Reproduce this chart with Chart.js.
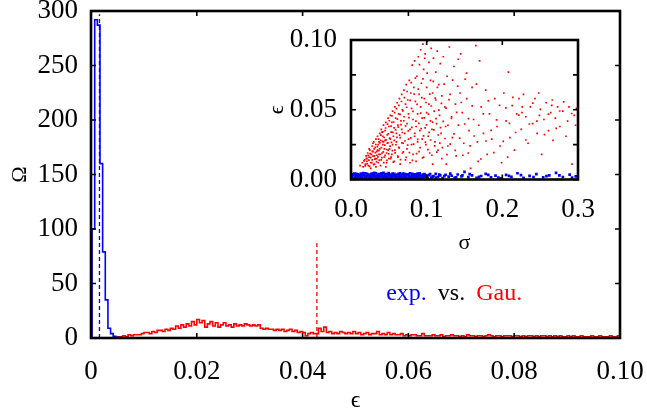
<!DOCTYPE html>
<html>
<head>
<meta charset="utf-8">
<script src="https://cdn.jsdelivr.net/npm/chart.js@4.4.1/dist/chart.umd.min.js"></script>
<style>
  html, body { margin: 0; padding: 0; background: #fff; }
  #wrap { position: relative; width: 647px; height: 413px; }
  #main { position: absolute; left: 0; top: 0; }
  #inset { position: absolute; left: 262px; top: 28px; }
</style>
</head>
<body>
<div id="wrap">
  <canvas id="main" width="647" height="413"></canvas>
  <canvas id="inset" width="340" height="230"></canvas>
</div>
<script>
// histogram bins (epsilon), width 0.0005
const binWidth = 0.0005;
const blueStart = 0.0002;
const blueCounts = [100, 292, 287, 160, 79, 35, 9, 4, 1.5, 0.5];
const redStart = 0.005;
const redCounts = [
  1, 1, 2, 1,
  3, 2, 3, 3, 3, 4,
  5, 5, 4, 6, 5, 7,
  7, 6, 8, 7, 9, 8,
  11, 9, 12, 10, 13, 11,
  15, 12, 17, 14, 16, 10,
  13, 15, 11, 14, 10, 12,
  14, 11, 12, 10, 13, 11,
  12, 11, 13, 12, 11, 12,
  11, 12, 9, 8, 9, 8,
  8, 7, 8, 7, 8, 6,
  7, 8, 6, 7, 5, 6,
  5, 2, 4, 5, 4, 4,
  9, 6, 10, 5, 6, 4,
  5, 4, 6, 5, 4, 5,
  4, 6, 4, 5, 3, 4,
  5, 3, 4, 4, 6, 3,
  4, 3, 5, 3, 4, 3,
  3, 4, 2, 3, 2, 3,
  3, 2, 2, 4, 2, 2,
  2, 3, 2, 2, 3, 1,
  2, 2, 3, 2, 2, 1,
  2, 1, 3, 2, 2, 1,
  2, 2, 1, 2, 3, 2,
  1, 2, 2, 1, 2, 2,
  2, 1, 2, 2, 1, 2,
  1, 2, 2, 1, 2, 1,
  2, 2, 1, 2, 1, 2,
  1, 2, 1, 1, 2, 1,
  2, 1, 1, 2, 1, 1,
  1, 2, 1, 1, 2, 1,
  1, 1, 2, 1, 1, 2
];
// mean markers
const blueMean = [0.0016, 297];
const redMean = [0.0427, 90];

const xTicks = [0, 0.02, 0.04, 0.06, 0.08, 0.1];
const xTickLabels = ['0', '0.02', '0.04', '0.06', '0.08', '0.10'];
const yTicks = [0, 50, 100, 150, 200, 250, 300];
const yTickLabels = ['0', '50', '100', '150', '200', '250', '300'];

// inset: sigma vs epsilon
const insetXTicks = [0, 0.1, 0.2, 0.3];
const insetXLabels = ['0.0', '0.1', '0.2', '0.3'];
const insetYTicks = [0, 0.05, 0.1];
const insetYLabels = ['0.00', '0.05', '0.10'];
const insetYMinor = [0.025, 0.075];

const redPoints = [
  [0.012,0.010],[0.015,0.012],[0.016,0.009],[0.018,0.014],[0.019,0.011],[0.020,0.017],[0.021,0.013],[0.022,0.019],
  [0.023,0.010],[0.024,0.016],[0.025,0.021],[0.026,0.012],[0.027,0.018],[0.028,0.024],[0.028,0.014],[0.029,0.020],
  [0.030,0.027],[0.031,0.011],[0.031,0.017],[0.032,0.023],[0.033,0.029],[0.034,0.015],[0.034,0.020],[0.035,0.031],
  [0.036,0.012],[0.036,0.025],[0.037,0.018],[0.038,0.033],[0.038,0.022],[0.039,0.028],[0.040,0.014],[0.040,0.036],
  [0.041,0.019],[0.042,0.025],[0.042,0.031],[0.043,0.039],[0.044,0.016],[0.044,0.022],[0.045,0.028],[0.045,0.035],
  [0.046,0.041],[0.047,0.012],[0.047,0.019],[0.048,0.026],[0.048,0.032],[0.049,0.044],[0.050,0.015],[0.050,0.038],
  [0.051,0.022],[0.052,0.029],[0.052,0.046],[0.053,0.034],[0.054,0.018],[0.054,0.041],[0.055,0.025],[0.055,0.049],
  [0.056,0.031],[0.057,0.013],[0.057,0.037],[0.058,0.052],[0.058,0.021],[0.059,0.044],[0.060,0.027],[0.060,0.033],
  [0.061,0.055],[0.062,0.016],[0.062,0.039],[0.063,0.047],[0.063,0.023],[0.064,0.058],[0.065,0.030],[0.065,0.011],
  [0.066,0.042],[0.067,0.061],[0.067,0.036],[0.068,0.019],[0.068,0.050],[0.069,0.026],[0.070,0.064],[0.070,0.045],
  [0.026,0.008],[0.033,0.009],[0.039,0.010],[0.046,0.009],[0.021,0.015],[0.024,0.022],[0.029,0.026],[0.032,0.015],
  [0.037,0.027],[0.041,0.034],[0.043,0.027],[0.049,0.021],[0.053,0.016],[0.035,0.021],
  [0.071,0.033],[0.072,0.054],[0.072,0.014],[0.073,0.068],[0.074,0.040],[0.074,0.022],[0.075,0.057],[0.076,0.029],
  [0.076,0.047],[0.077,0.071],[0.078,0.012],[0.078,0.036],[0.079,0.062],[0.080,0.025],[0.080,0.051],[0.081,0.082],
  [0.082,0.043],[0.082,0.018],[0.083,0.066],[0.084,0.031],[0.084,0.085],[0.085,0.056],[0.086,0.038],[0.086,0.013],
  [0.087,0.074],[0.088,0.047],[0.088,0.027],[0.089,0.088],[0.090,0.061],[0.090,0.020],[0.091,0.035],[0.092,0.093],
  [0.092,0.052],[0.093,0.069],[0.094,0.029],[0.094,0.044],[0.095,0.097],[0.096,0.079],[0.096,0.016],[0.097,0.058],
  [0.098,0.037],[0.098,0.090],[0.099,0.025],[0.100,0.066],[0.100,0.048],[0.101,0.099],[0.102,0.031],[0.103,0.084],
  [0.103,0.054],[0.104,0.019],[0.105,0.071],[0.105,0.042],[0.106,0.094],[0.107,0.036],[0.108,0.062],[0.108,0.011],
  [0.109,0.087],[0.110,0.049],[0.111,0.027],[0.112,0.077],[0.112,0.057],[0.113,0.040],[0.114,0.092],[0.115,0.021],
  [0.116,0.068],[0.117,0.046],[0.118,0.083],[0.119,0.033],[0.120,0.060],[0.120,0.015],
  [0.122,0.088],[0.124,0.052],[0.125,0.038],[0.127,0.074],[0.128,0.024],[0.130,0.095],[0.131,0.061],[0.133,0.045],
  [0.134,0.030],[0.136,0.081],[0.138,0.054],[0.139,0.017],[0.141,0.067],[0.142,0.039],[0.145,0.090],[0.147,0.048],
  [0.149,0.026],[0.151,0.072],[0.153,0.058],[0.156,0.035],[0.158,0.008],[0.160,0.066],[0.162,0.043],[0.165,0.096],
  [0.167,0.027],[0.170,0.085],[0.172,0.052],[0.175,0.033],[0.178,0.064],[0.180,0.018],[0.183,0.047],[0.186,0.029],
  [0.190,0.058],[0.193,0.038],[0.197,0.024],[0.199,0.012],[0.155,0.019],[0.168,0.013],[0.144,0.062],[0.126,0.011],
  [0.202,0.062],[0.205,0.042],[0.208,0.077],[0.210,0.030],[0.213,0.053],[0.216,0.021],[0.219,0.047],[0.222,0.058],
  [0.225,0.036],[0.228,0.061],[0.231,0.045],[0.234,0.026],[0.237,0.052],[0.240,0.040],[0.243,0.058],[0.246,0.033],
  [0.249,0.046],[0.252,0.018],[0.255,0.043],[0.258,0.055],[0.261,0.035],[0.264,0.048],[0.267,0.028],[0.270,0.044],
  [0.273,0.052],[0.276,0.038],[0.280,0.049],[0.284,0.031],[0.288,0.052],[0.292,0.011],[0.295,0.046],[0.298,0.051],
  [0.207,0.016],[0.226,0.048],[0.248,0.062],[0.266,0.057],
  [0.0172,0.0134],[0.0187,0.0098],[0.0203,0.0151],[0.0215,0.0112],[0.0228,0.0173],[0.0236,0.0139],[0.0247,0.0094],
  [0.0253,0.0186],[0.0261,0.0157],[0.0274,0.0121],[0.0283,0.0202],[0.0291,0.0168],[0.0297,0.0107],[0.0306,0.0219],
  [0.0314,0.0145],[0.0322,0.0193],[0.0328,0.0251],[0.0337,0.0128],[0.0342,0.0174],[0.0349,0.0236],[0.0356,0.0162],
  [0.0363,0.0289],[0.0368,0.0207],[0.0374,0.0139],[0.0381,0.0263],[0.0389,0.0181],[0.0394,0.0318],[0.0402,0.0229],
  [0.0408,0.0157],[0.0415,0.0274],[0.0421,0.0342],[0.0427,0.0198],[0.0433,0.0121],[0.0438,0.0301],[0.0446,0.0246],
  [0.0451,0.0173],[0.0457,0.0369],[0.0463,0.0284],[0.0469,0.0215],[0.0474,0.0137],[0.0482,0.0397],[0.0487,0.0263],
  [0.0493,0.0328],[0.0498,0.0184],[0.0506,0.0421],[0.0511,0.0297],[0.0517,0.0239],[0.0523,0.0149],[0.0529,0.0383],
  [0.0535,0.0266],[0.0541,0.0456],[0.0547,0.0207],[0.0552,0.0338],[0.0559,0.0124],[0.0564,0.0412],[0.0571,0.0281],
  [0.0577,0.0479],[0.0583,0.0191],[0.0589,0.0356],[0.0594,0.0249],[0.0601,0.0508],[0.0607,0.0302],[0.0613,0.0433],
  [0.0619,0.0168],[0.0625,0.0376],[0.0631,0.0531],[0.0637,0.0227],[0.0642,0.0318],[0.0648,0.0467],[0.0654,0.0143],
  [0.0661,0.0394],[0.0667,0.0559],[0.0673,0.0262],[0.0679,0.0337],[0.0686,0.0492],[0.0692,0.0198],[0.0698,0.0421],
  [0.0706,0.0587],[0.0713,0.0276],[0.0721,0.0384],[0.0729,0.0159],[0.0735,0.0518],[0.0742,0.0631],[0.0749,0.0247],
  [0.0757,0.0349],[0.0766,0.0443],[0.0773,0.0192],[0.0781,0.0567],[0.0789,0.0298],[0.0796,0.0694],[0.0804,0.0373],
  [0.0812,0.0137],[0.0819,0.0489],[0.0827,0.0253],[0.0834,0.0612],[0.0843,0.0331],[0.0851,0.0726],[0.0858,0.0418],
  [0.0866,0.0186],[0.0873,0.0539],[0.0882,0.0287],[0.0889,0.0648],[0.0897,0.0402],[0.0905,0.0823],[0.0913,0.0229],
  [0.0921,0.0476],[0.0928,0.0364],[0.0936,0.0587],[0.0944,0.0154],[0.0951,0.0721],[0.0959,0.0313],[0.0968,0.0442],
  [0.0975,0.0869],[0.0983,0.0268],[0.0991,0.0552],[0.0998,0.0391],[0.1007,0.0763],[0.1016,0.0214],[0.1024,0.0469],
  [0.1033,0.0338],[0.1041,0.0612],[0.1052,0.0283],[0.1061,0.0527],[0.1069,0.0174],[0.1078,0.0411],[0.1087,0.0703],
  [0.1095,0.0356],[0.1106,0.0241],[0.1114,0.0584],[0.1123,0.0437],[0.1134,0.0196],[0.1142,0.0661],[0.1153,0.0319],
  [0.1162,0.0498],[0.1174,0.0261],[0.1183,0.0372],[0.1195,0.0546],[0.1207,0.0228],[0.1219,0.0417],[0.1231,0.0684],
  [0.1243,0.0294],[0.1256,0.0511],[0.1268,0.0178],[0.1281,0.0389],[0.1295,0.0572],
  [0.1312,0.0254],[0.1327,0.0438],[0.1343,0.0713],[0.1361,0.0327],[0.1378,0.0209],[0.1396,0.0481],[0.1417,0.0862],
  [0.1436,0.0296],[0.1458,0.0552],[0.1479,0.0174],[0.1503,0.0398],[0.1527,0.0763],[0.1552,0.0437],[0.1574,0.0241],
  [0.1601,0.0528],[0.1628,0.0312],[0.1657,0.0684],[0.1689,0.0389],[0.1716,0.0147],[0.1748,0.0471],[0.1783,0.0276],
  [0.1815,0.0563],[0.1852,0.0352],[0.1887,0.0193],[0.1924,0.0427],[0.1963,0.0531],[0.2012,0.0274],[0.2047,0.0514],
  [0.2094,0.0402],[0.2138,0.0589],[0.2176,0.0337],[0.2218,0.0462],[0.2263,0.0521],[0.2311,0.0283],[0.2357,0.0398],
  [0.2402,0.0547],[0.2456,0.0419],[0.2503,0.0503],[0.2557,0.0321],[0.2609,0.0468],[0.2653,0.0532],[0.2712,0.0367],
  [0.2758,0.0491],[0.2811,0.0557],[0.2862,0.0418],[0.2917,0.0473],[0.2968,0.0389]
];

const bluePoints = [
  [0.001,0.002],[0.003,0.0035],[0.004,0.001],[0.006,0.0025],[0.007,0.004],[0.009,0.0015],[0.010,0.003],[0.012,0.0008],
  [0.013,0.0042],[0.015,0.002],[0.016,0.0033],[0.018,0.001],[0.019,0.0045],[0.021,0.0022],[0.022,0.0036],[0.024,0.0012],
  [0.025,0.0028],[0.027,0.004],[0.028,0.0007],[0.030,0.0031],[0.031,0.0018],[0.033,0.0044],[0.034,0.0025],[0.036,0.001],
  [0.037,0.0038],[0.039,0.0021],[0.040,0.0032],[0.042,0.0009],[0.043,0.0047],[0.045,0.0017],[0.046,0.0029],[0.048,0.0039],
  [0.049,0.0011],[0.051,0.0026],[0.052,0.0035],[0.054,0.0014],[0.055,0.0043],[0.057,0.0023],[0.058,0.0008],[0.060,0.0033],
  [0.061,0.0019],[0.063,0.0041],[0.064,0.0012],[0.066,0.0027],[0.067,0.0036],[0.069,0.0009],[0.070,0.0024],[0.072,0.0038],
  [0.073,0.0016],[0.075,0.0031],[0.076,0.001],[0.078,0.0044],[0.079,0.0021],[0.081,0.0029],[0.082,0.0008],[0.084,0.0037],
  [0.085,0.0018],[0.087,0.0025],[0.088,0.0042],[0.090,0.0012],[0.091,0.0033],[0.093,0.002],[0.094,0.0028],[0.096,0.0009],
  [0.097,0.0039],[0.099,0.0017],[0.100,0.0026],
  [0.002,0.0038],[0.005,0.0018],[0.008,0.003],[0.011,0.0021],[0.014,0.0027],[0.017,0.0039],[0.020,0.0012],[0.023,0.0029],
  [0.026,0.0019],[0.029,0.0043],[0.032,0.0027],[0.035,0.0014],[0.038,0.0029],[0.041,0.0041],[0.044,0.0024],[0.047,0.0008],
  [0.050,0.0034],[0.053,0.0022],[0.056,0.0031],[0.059,0.0016],[0.062,0.0028],[0.065,0.0045],[0.068,0.0019],[0.071,0.0011],
  [0.074,0.0034],[0.077,0.0022],[0.080,0.0013],[0.083,0.0027],[0.086,0.0035],[0.089,0.0021],[0.092,0.0011],[0.095,0.0036],
  [0.098,0.0024],
  [0.103,0.0031],[0.106,0.0014],[0.109,0.0024],[0.112,0.004],[0.115,0.0018],[0.118,0.0029],[0.121,0.001],[0.125,0.0034],
  [0.129,0.002],[0.133,0.0027],[0.137,0.0012],[0.141,0.0036],[0.146,0.0022],[0.150,0.0055],[0.155,0.0017],[0.160,0.003],
  [0.166,0.0011],[0.172,0.0025],[0.178,0.004],[0.185,0.0016],[0.191,0.0028],[0.198,0.0009],[0.205,0.0033],[0.212,0.0019],
  [0.220,0.0045],[0.228,0.0012],[0.236,0.0026],[0.245,0.0038],[0.254,0.0015],[0.262,0.003],[0.271,0.0047],[0.280,0.0018],
  [0.289,0.0035],[0.297,0.0022],
  [0.0015,0.0029],[0.0045,0.0043],[0.0068,0.0012],[0.0093,0.0037],[0.0118,0.0026],[0.0142,0.0013],[0.0163,0.0046],
  [0.0187,0.0024],[0.0211,0.0041],[0.0236,0.0007],[0.0258,0.0035],[0.0283,0.0022],[0.0307,0.0047],[0.0331,0.0011],
  [0.0354,0.0034],[0.0377,0.0016],[0.0402,0.0044],[0.0426,0.0027],[0.0451,0.0038],[0.0474,0.0019],[0.0498,0.0046],
  [0.0523,0.0009],[0.0547,0.0028],[0.0571,0.0041],[0.0596,0.0013],[0.0618,0.0036],[0.0642,0.0023],[0.0667,0.0011],
  [0.0691,0.0042],[0.0714,0.0029],[0.0738,0.0006],[0.0762,0.0037],[0.0786,0.0015],[0.0811,0.0041],[0.0835,0.0019],
  [0.0858,0.0009],[0.0882,0.0031],[0.0907,0.0044],[0.0931,0.0014],[0.0956,0.0023],[0.0979,0.0032],[0.1012,0.0011],
  [0.1045,0.0039],[0.1078,0.0021],[0.1123,0.0013],[0.1167,0.0035],[0.1234,0.0024],[0.1312,0.0042],[0.1389,0.0016],
  [0.1473,0.0029],[0.1568,0.0038],[0.1692,0.0019],[0.1815,0.0033],[0.1948,0.0014],[0.2087,0.0026],[0.2246,0.0031],
  [0.2412,0.0017],[0.2583,0.0024],[0.2754,0.0029],[0.2921,0.0013]
];

const legendParts = [['exp.', '#0000ff'], ['vs.', '#000000'], ['Gau.', '#ff0000']];
const legendAt = [0.0558, 34.5];

const serif = '"Liberation Serif", "DejaVu Serif", serif';
const tickFont = { family: serif, size: 27 };

function histPoints(start, width, counts) {
  const pts = [{ x: start, y: 0 }];
  counts.forEach((c, i) => pts.push({ x: start + i * width, y: c }));
  pts.push({ x: start + counts.length * width, y: 0 });
  return pts;
}

// box around the plot area with inward ticks
const framePlugin = {
  id: 'frame',
  afterDatasetsDraw(chart, args, opts) {
    const { ctx, chartArea: a, scales } = chart;
    const len = 5;
    ctx.save();
    ctx.strokeStyle = '#000';
    ctx.lineWidth = 1.6;
    ctx.beginPath();
    opts.xTicks.forEach(v => {
      const px = scales.x.getPixelForValue(v);
      ctx.moveTo(px, a.bottom); ctx.lineTo(px, a.bottom - len);
      ctx.moveTo(px, a.top); ctx.lineTo(px, a.top + len);
    });
    opts.yTicks.forEach(v => {
      const py = scales.y.getPixelForValue(v);
      ctx.moveTo(a.left, py); ctx.lineTo(a.left + len, py);
      ctx.moveTo(a.right, py); ctx.lineTo(a.right - len, py);
    });
    ctx.stroke();
    ctx.lineWidth = 2.6;
    ctx.strokeRect(a.left, a.top, a.right - a.left, a.bottom - a.top);
    ctx.restore();
  }
};

const textPlugin = {
  id: 'legendText',
  afterDraw(chart) {
    const { ctx, scales: { x, y } } = chart;
    let px = x.getPixelForValue(legendAt[0]);
    const py = y.getPixelForValue(legendAt[1]);
    ctx.save();
    ctx.font = '24px ' + serif;
    ctx.textBaseline = 'alphabetic';
    legendParts.forEach(([t, c]) => {
      ctx.fillStyle = c;
      ctx.fillText(t, px, py);
      px += ctx.measureText(t).width + 11;
    });
    ctx.restore();
  }
};

function axis(min, max, ticks, labels, opts) {
  return {
    type: 'linear', min: min, max: max,
    grid: { display: false }, border: { display: false },
    afterBuildTicks: s => { s.ticks = ticks.map(v => ({ value: v })); },
    ticks: {
      font: tickFont, color: '#000', padding: opts.pad,
      maxRotation: 0, autoSkip: false,
      callback: (v, i) => labels[i]
    },
    title: {
      display: true, text: opts.title, color: '#000',
      font: { family: serif, size: opts.titleSize, lineHeight: 1 },
      padding: opts.titlePad
    },
    afterFit: s => {
      if (opts.width) s.width = opts.width;
      if (opts.height) s.height = opts.height;
      s.paddingLeft = 0; s.paddingRight = 0; s.paddingTop = 0; s.paddingBottom = 0;
    }
  };
}

new Chart(document.getElementById('main'), {
  type: 'scatter',
  data: {
    datasets: [
      { data: histPoints(blueStart, binWidth, blueCounts), showLine: true, stepped: true,
        borderColor: '#0000ff', borderWidth: 1.6, pointRadius: 0 },
      { data: histPoints(redStart, binWidth, redCounts), showLine: true, stepped: true,
        borderColor: '#ff0000', borderWidth: 1.6, pointRadius: 0 },
      { data: [{ x: blueMean[0], y: 0 }, { x: blueMean[0], y: blueMean[1] }], showLine: true,
        borderColor: '#0000ff', borderWidth: 1.3, borderDash: [4, 3], pointRadius: 0 },
      { data: [{ x: redMean[0], y: 0 }, { x: redMean[0], y: redMean[1] }], showLine: true,
        borderColor: '#ff0000', borderWidth: 1.3, borderDash: [4, 3], pointRadius: 0 }
    ]
  },
  options: {
    responsive: false, animation: false, devicePixelRatio: 1,
    layout: { padding: { top: 11, right: 27, left: 0, bottom: 0 } },
    plugins: {
      legend: { display: false }, tooltip: { enabled: false },
      frame: { xTicks: xTicks, yTicks: yTicks }
    },
    scales: {
      x: axis(0, 0.1, xTicks, xTickLabels, { pad: 10, title: 'ϵ', titleSize: 24, titlePad: { top: 0, bottom: 0 }, height: 75 }),
      y: axis(0, 300, yTicks, yTickLabels, { pad: 5, title: 'Ω', titleSize: 22, titlePad: { top: 9, bottom: 0 }, width: 91 })
    }
  },
  plugins: [framePlugin, textPlugin]
});

new Chart(document.getElementById('inset'), {
  type: 'scatter',
  data: {
    datasets: [
      { data: redPoints.map(p => ({ x: p[0], y: p[1] })), pointStyle: 'rect', pointRadius: 1.2,
        backgroundColor: '#ff0000', borderWidth: 0 },
      { data: bluePoints.map(p => ({ x: p[0], y: p[1] })), pointStyle: 'rect', pointRadius: 1.9,
        backgroundColor: '#0000ff', borderWidth: 0 }
    ]
  },
  options: {
    responsive: false, animation: false, devicePixelRatio: 1,
    layout: { padding: { top: 12, right: 24, left: 0, bottom: 0 } },
    plugins: {
      legend: { display: false }, tooltip: { enabled: false },
      frame: { xTicks: insetXTicks, yTicks: insetYTicks.concat(insetYMinor) }
    },
    scales: {
      x: axis(0, 0.3, insetXTicks, insetXLabels, { pad: 6, title: 'σ', titleSize: 22, titlePad: { top: 0, bottom: 4 }, height: 78.5 }),
      y: axis(0, 0.1, insetYTicks, insetYLabels, { pad: 6, title: 'ϵ', titleSize: 22, titlePad: { top: 4, bottom: 0 }, width: 89 })
    }
  },
  plugins: [framePlugin]
});
</script>
</body>
</html>
